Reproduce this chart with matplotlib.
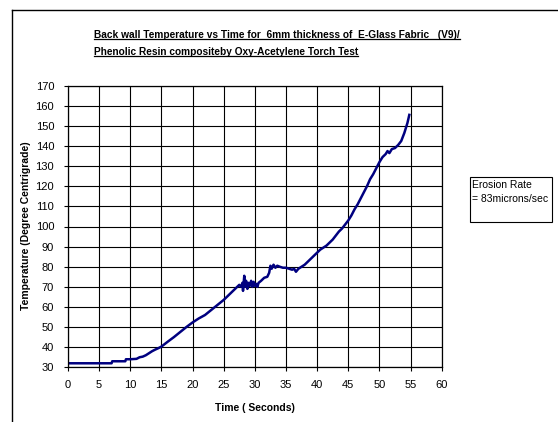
import numpy as np
import matplotlib.pyplot as plt
from matplotlib.lines import Line2D

plt.rcParams['font.family'] = ['Liberation Sans', 'DejaVu Sans']

# time (s) and back wall temperature (deg C)
time_s = [0, 1, 2, 3, 4, 5, 6, 7, 7.1, 8, 9, 9.2, 9.3, 10, 11, 11.5, 12, 12.5, 13, 13.5,
          14, 14.5, 15, 16, 17, 18, 19, 20, 21, 22, 23, 24, 25, 26, 27, 27.5,
          27.8, 28.0, 28.1, 28.3, 28.4, 28.6, 28.8, 29.0, 29.2, 29.4, 29.6, 29.8, 30.0,
          30.2, 30.4, 30.6, 31.0, 31.5, 32.0, 32.3, 32.5, 32.7, 33.0, 33.3, 33.6, 34.0,
          34.5, 35.0, 35.5, 36.0, 36.3, 36.6, 37.0, 37.5, 38.0, 38.5, 39.0, 39.5, 40.0,
          40.5, 41.0, 41.5, 42.0, 42.5, 43.0, 43.5, 44.0, 44.5, 45.0, 45.5, 46.0, 46.5,
          47.0, 47.5, 48.0, 48.5, 49.0, 49.5, 50.0, 50.5, 51.0, 51.3, 51.6, 52.0, 52.5,
          53.0, 53.5, 54.0, 54.5, 54.8]
temp_c = [32, 32, 32, 32, 32, 32, 32, 32, 33, 33, 33, 33, 34, 34, 34.2, 35, 35.3, 36, 37, 38,
          38.8, 39.5, 40.3, 42.7, 45, 47.5, 50, 52.3, 54.3, 56, 58.5, 61, 63.5, 66.5, 69.5, 71,
          70, 72, 68, 75.5, 70, 73, 69, 72, 70.5, 73, 70, 72.5, 70.5,
          71.5, 70, 72, 73, 74.5, 75, 77, 80.5, 79, 81, 79.5, 80.5, 80,
          79.5, 79.5, 79, 78.5, 79, 77.5, 79, 80, 81, 82.5, 84, 85.5, 87,
          88.5, 89.5, 90.5, 92, 93.5, 95.5, 97.5, 99, 101, 103, 105.5, 108.5, 111,
          114, 117, 120, 123.5, 126, 129, 132, 134.5, 136, 137.5, 136.5, 138.5, 139,
          140.5, 142.5, 146.5, 151.5, 155.5]

W, H = 558, 422
fig = plt.figure(figsize=(W / 100, H / 100), dpi=100)
ax = fig.add_axes([68 / W, 1 - 367.3 / H, (441.7 - 68) / W, (367.3 - 85.7) / H])

ax.plot(time_s, temp_c, color='#000080', lw=1.8)

ax.set_xlim(0, 60)
ax.set_ylim(30, 170)
ax.set_xticks(np.arange(0, 61, 5))
ax.set_yticks(np.arange(30, 171, 10))
ax.grid(True, color='black', lw=0.8)
ax.set_axisbelow(True)
for s in ax.spines.values():
    s.set_color('black')
    s.set_linewidth(0.9)
ax.tick_params(direction='out', length=3, width=0.8, labelsize=8)
ax.tick_params(axis='y', pad=7)
ax.tick_params(axis='x', pad=6)

fig.text(255 / W, 1 - 408 / H, 'Time ( Seconds)', ha='center', va='center',
         fontsize=7.5, fontweight='bold')
fig.text(26 / W, 1 - 226 / H, 'Temperature (Degree Centrigrade)', ha='center', va='center',
         rotation=90, fontsize=7.5, fontweight='bold')

# title, left aligned and underlined
t1 = fig.text(94 / W, 1 - 35 / H, 'Back wall Temperature vs Time for  6mm thickness of  E-Glass Fabric   (V9)/',
              ha='left', va='center', fontsize=7.3, fontweight='bold')
t2 = fig.text(94 / W, 1 - 52 / H, 'Phenolic Resin compositeby Oxy-Acetylene Torch Test',
              ha='left', va='center', fontsize=7.3, fontweight='bold')
fig.canvas.draw()
r = fig.canvas.get_renderer()
for t in (t1, t2):
    bb = t.get_window_extent(r).transformed(fig.transFigure.inverted())
    fig.add_artist(Line2D([bb.x0, bb.x1], [bb.y0 + 0.002, bb.y0 + 0.002], color='black', lw=0.9))

# text box
fig.text(472 / W, 1 - 180 / H, 'Erosion Rate\n= 83microns/sec', ha='left', va='top',
         fontsize=7.5, linespacing=1.5)
fig.add_artist(plt.Rectangle((470 / W, 1 - 222 / H), 82 / W, 45 / H, transform=fig.transFigure,
                             fill=False, ec='black', lw=0.8))

# outer chart frame
fig.add_artist(Line2D([12 / W, 12 / W], [0, 1 - 10 / H], color='black', lw=1))
fig.add_artist(Line2D([12 / W, 1], [1 - 10 / H, 1 - 10 / H], color='black', lw=1))

fig.savefig('out.png', dpi=100)
